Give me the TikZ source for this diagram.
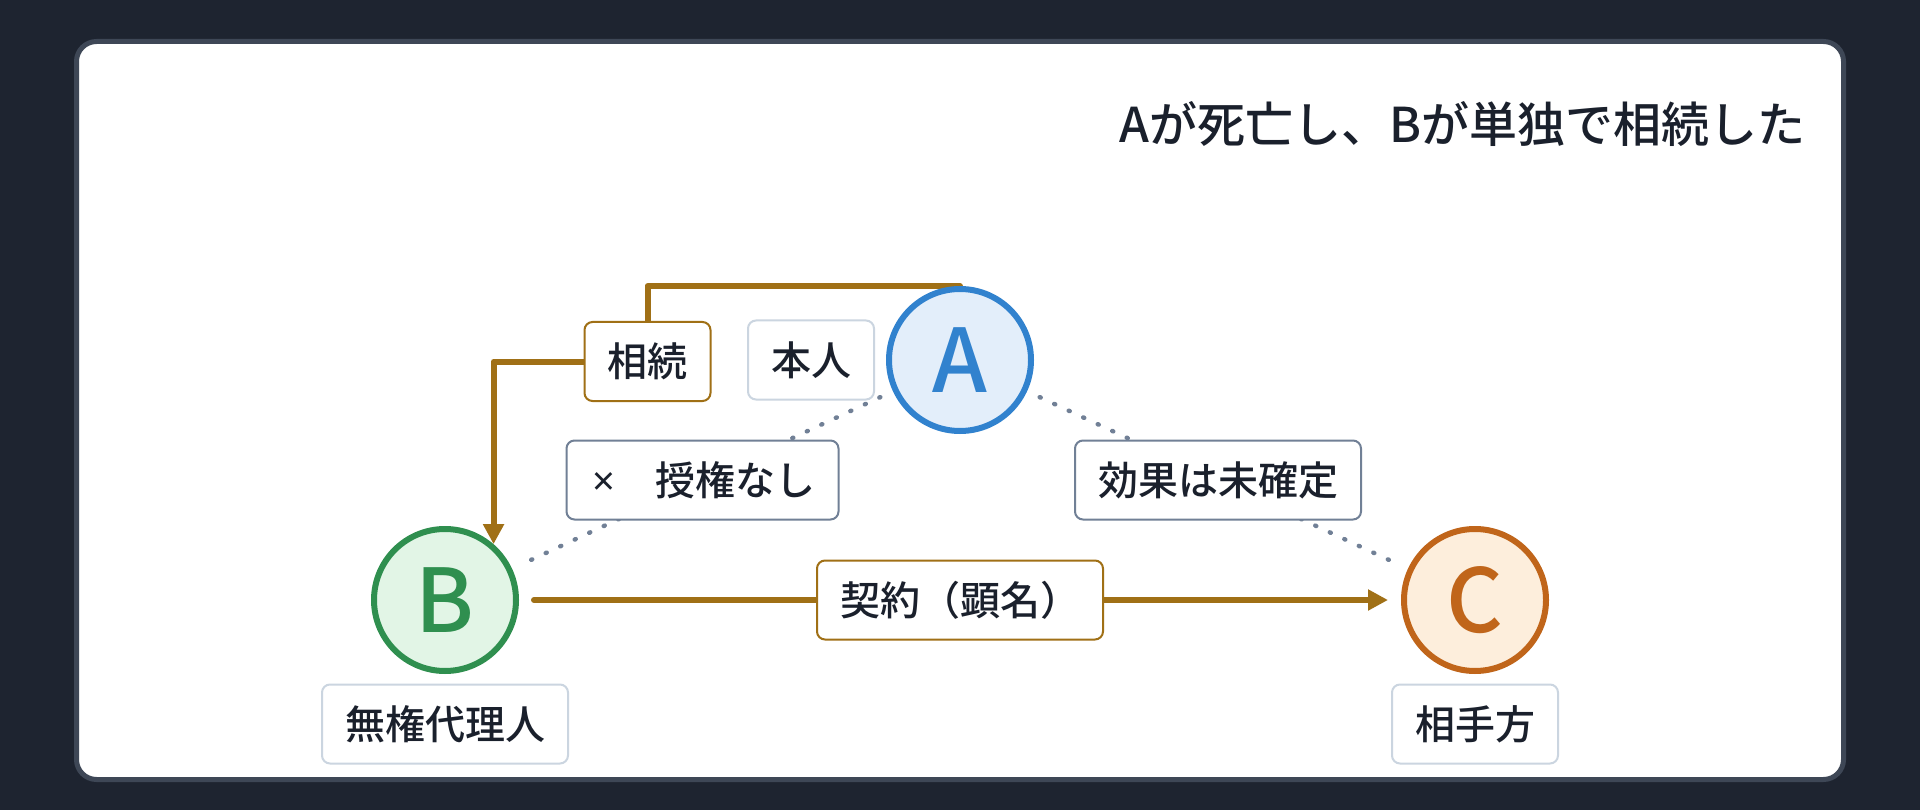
\documentclass[tikz,border=0pt]{standalone}
\usepackage{fontspec}
\setmainfont{Noto Sans CJK JP Medium}
\newfontfamily\letterfont{Noto Sans CJK JP Medium}
\newfontfamily\latinfont{Noto Sans}
\usetikzlibrary{arrows.meta}
\definecolor{bgdark}{HTML}{1E2430}
\definecolor{panelborder}{HTML}{3E4756}
\definecolor{gold}{HTML}{A07016}
\definecolor{ink}{HTML}{1A202C}
\definecolor{lightborder}{HTML}{CBD5E0}
\definecolor{grayborder}{HTML}{718096}
\definecolor{ablue}{HTML}{3182CE}
\definecolor{afill}{HTML}{E3EEFA}
\definecolor{bgreen}{HTML}{2F8F4F}
\definecolor{bfill}{HTML}{E2F5E6}
\definecolor{corange}{HTML}{C0651A}
\definecolor{cfill}{HTML}{FDEEDC}
\pgfdeclarelayer{back}
\pgfdeclarelayer{lines}
\pgfsetlayers{back,lines,main}
\tikzset{
  person/.style={circle, minimum size=142pt, inner sep=0pt, line width=6pt,
    font=\fontsize{88}{88}\letterfont},
  tag/.style={rectangle, rounded corners=8pt, fill=white, line width=2pt,
    minimum height=79pt, inner xsep=23pt, inner ysep=0pt,
    font=\fontsize{40}{40}\selectfont, text=ink},
  tagplain/.style={tag, draw=lightborder},
  taggold/.style={tag, draw=gold},
  taggray/.style={tag, draw=grayborder},
  flow/.style={draw=gold, line width=6pt, line cap=round, line join=round},
  flowtip/.style={-{Triangle[length=20pt, width=20pt]}},
  linkdots/.style={draw=grayborder, line width=4.5pt, line cap=round,
    dash pattern=on 1pt off 15pt, shorten <=14pt, shorten >=14pt},
  panel/.style={fill=white, draw=panelborder, line width=5pt, rounded corners=20pt}
}
\begin{document}
\begin{tikzpicture}[x=1pt, y=-1pt]
\path[use as bounding box] (0,0) rectangle (1920,810);
\begin{pgfonlayer}{back}
  \fill[bgdark] (0,0) rectangle (1920,810);
  \path[panel] (76.5,41.5) rectangle (1843.5,779.5);
\end{pgfonlayer}

\node[anchor=east, inner sep=0pt, font=\fontsize{48}{48}\selectfont, text=ink] (title) at (1806,124) {Aが死亡し、Bが単独で相続した};

\node[person, draw=ablue, fill=afill, text=ablue] (A) at (960,360) {A};
\node[person, draw=bgreen, fill=bfill, text=bgreen] (B) at (445,600) {B};
\node[person, draw=corange, fill=cfill, text=corange] (C) at (1475,600) {C};

\node[tagplain] (honnin) at (811,360) {本人};
\node[taggold] (souzoku) at (647.5,361.5) {相続};
\node[taggray] (juken) at (702.5,480) {\makebox[28pt]{\latinfont\bfseries ×}\hspace{38pt}授権なし};
\node[taggray] (kouka) at (1218,480) {効果は未確定};
\node[taggold] (keiyaku) at (960,600) {契約（顕名）};
\node[tagplain] (muken) at (445,724) {無権代理人};
\node[tagplain] (aite) at (1475,724) {相手方};

\begin{pgfonlayer}{lines}
  \draw[flow, flowtip] (A.north) -| (souzoku.center) -| (B.49.4);
  \draw[flow, flowtip, shorten <=15pt, shorten >=13pt] (B) -- (C);
  \draw[linkdots] (A) -- (B);
  \draw[linkdots] (A) -- (C);
\end{pgfonlayer}
\end{tikzpicture}
\end{document}
